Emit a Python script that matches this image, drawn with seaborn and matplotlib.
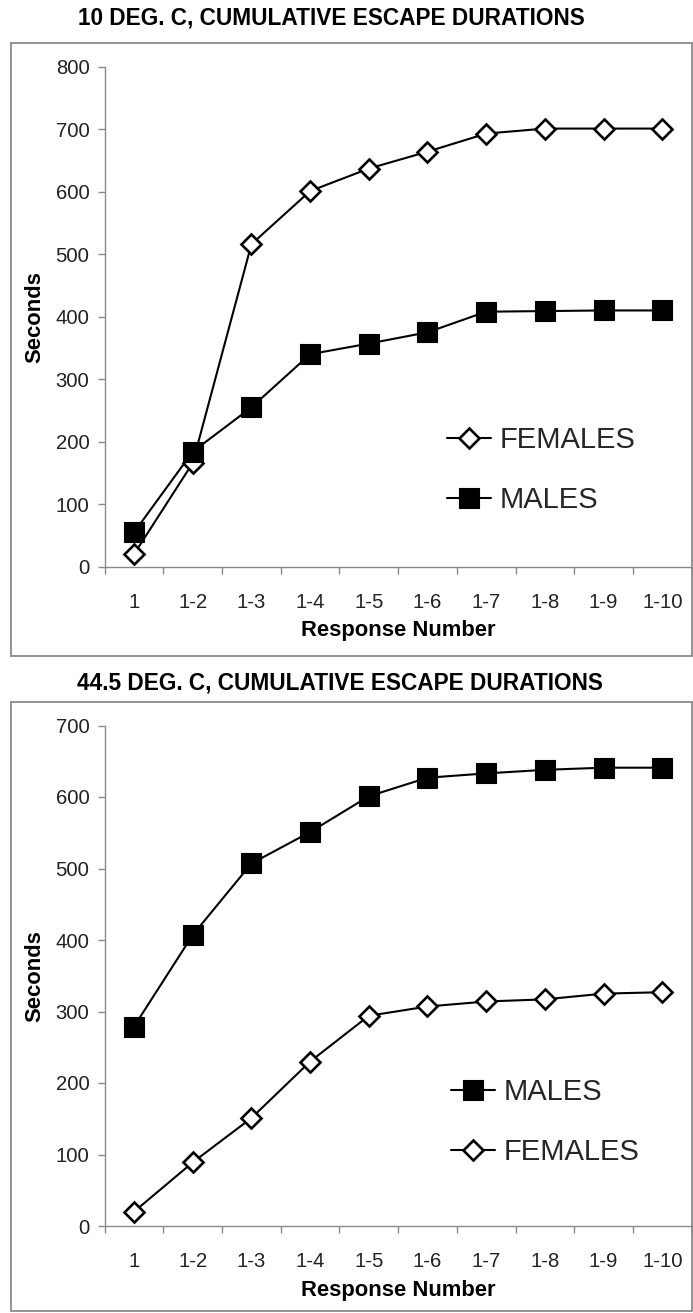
import numpy as np
import pandas as pd
import matplotlib
matplotlib.use("Agg")
import matplotlib.pyplot as plt
from matplotlib.patches import Rectangle
from matplotlib.ticker import FixedLocator
import seaborn as sns

# ---------------- data ----------------
categories = ["1", "1-2", "1-3", "1-4", "1-5", "1-6", "1-7", "1-8", "1-9", "1-10"]

cold_females = [20, 166, 516, 601, 637, 664, 693, 701, 701, 701]
cold_males = [55, 184, 255, 340, 357, 375, 408, 409, 410, 410]

hot_males = [279, 407, 507, 551, 601, 627, 633, 638, 641, 641]
hot_females = [20, 89, 151, 230, 294, 307, 314, 317, 325, 327]

title_cold = "10 DEG. C, CUMULATIVE ESCAPE DURATIONS"
title_hot = "44.5 DEG. C, CUMULATIVE ESCAPE DURATIONS"
ylim_cold = (0, 800)
ylim_hot = (0, 700)

# ---------------- style ----------------
sns.set_style("white")
plt.rcParams["font.family"] = ["Liberation Sans", "DejaVu Sans"]

W, H = 693, 1313
fig = plt.figure(figsize=(W / 100, H / 100), dpi=100)

SPINE = "#8a8a8a"
TXT = "#222222"


def fx(px):
    return px / W


def fy(py):
    return 1 - py / H


def make_axes(y0_px, y_top_px):
    left, right = 104.7, 691.6
    ax = fig.add_axes([fx(left), fy(y0_px), (right - left) / W, (y0_px - y_top_px) / H])
    return ax


diamond_kw = dict(marker="D", markersize=10.3, markerfacecolor="white",
                  markeredgecolor="black", markeredgewidth=1.9)
square_kw = dict(marker="s", markersize=15, markerfacecolor="black",
                 markeredgecolor="black", markeredgewidth=0.8)


def draw_panel(ax, females, males, ylim, legend_order, legend_anchor):
    x = np.arange(len(categories))
    df_f = pd.DataFrame({"x": x, "y": females})
    df_m = pd.DataFrame({"x": x, "y": males})
    sns.lineplot(data=df_f, x="x", y="y", color="black", linewidth=1.5,
                 sort=False, ax=ax, label="FEMALES", **diamond_kw)
    sns.lineplot(data=df_m, x="x", y="y", color="black", linewidth=1.5,
                 sort=False, ax=ax, label="MALES", **square_kw)

    ax.set_xlim(-0.5, len(categories) - 0.5)
    ax.set_ylim(*ylim)
    ax.set_yticks(np.arange(ylim[0], ylim[1] + 1, 100))
    ax.set_xticks(x)
    ax.set_xticklabels(categories)
    ax.xaxis.set_minor_locator(FixedLocator(np.arange(-0.5, len(categories), 1.0)))

    for s in ["top", "right"]:
        ax.spines[s].set_visible(False)
    for s in ["left", "bottom"]:
        ax.spines[s].set_color(SPINE)
        ax.spines[s].set_linewidth(1.0)

    ax.tick_params(axis="x", which="major", length=0, pad=19, labelsize=14.6,
                   labelcolor=TXT)
    ax.tick_params(axis="x", which="minor", length=5, width=1.0, color=SPINE,
                   direction="out", bottom=True)
    ax.tick_params(axis="y", which="major", length=5, width=1.0, color=SPINE,
                   direction="out", left=True, pad=6, labelsize=14.6, labelcolor=TXT)

    ax.set_xlabel("Response Number", fontsize=15.8, fontweight="bold", color="black",
                  va="center")
    ax.xaxis.set_label_coords(0.5, -0.128)
    ax.set_ylabel("Seconds", fontsize=15.8, fontweight="bold", color="black",
                  va="center")
    ax.yaxis.set_label_coords(-0.1188, 0.5)

    handles, labels = ax.get_legend_handles_labels()
    lut = dict(zip(labels, handles))
    ax.legend([lut[k] for k in legend_order], legend_order, loc="center left",
              bbox_to_anchor=legend_anchor, frameon=False, fontsize=21,
              handlelength=1.5, handletextpad=0.3, labelspacing=1.1,
              borderpad=0, borderaxespad=0)


# top panel
ax1 = make_axes(566.7, 66.7)
draw_panel(ax1, cold_females, cold_males, ylim_cold, ["FEMALES", "MALES"],
           (0.583, 0.1926))

# bottom panel
ax2 = make_axes(1226.0, 725.5)
draw_panel(ax2, hot_females, hot_males, ylim_hot, ["MALES", "FEMALES"],
           (0.590, 0.2078))

# frames
fig.add_artist(Rectangle((fx(11), fy(656)), (692 - 11) / W, (656 - 43.3) / H,
                         transform=fig.transFigure, fill=False, ec=SPINE, lw=1.3))
fig.add_artist(Rectangle((fx(11), fy(1311)), (692 - 11) / W, (1311 - 702) / H,
                         transform=fig.transFigure, fill=False, ec=SPINE, lw=1.3))

# titles
fig.text(fx(331), fy(17.5), title_cold, ha="center", va="center",
         fontsize=16.3, fontweight="bold", color="black")
fig.text(fx(340), fy(683.3), title_hot, ha="center", va="center",
         fontsize=16.3, fontweight="bold", color="black")

fig.savefig("out.png", dpi=100)
